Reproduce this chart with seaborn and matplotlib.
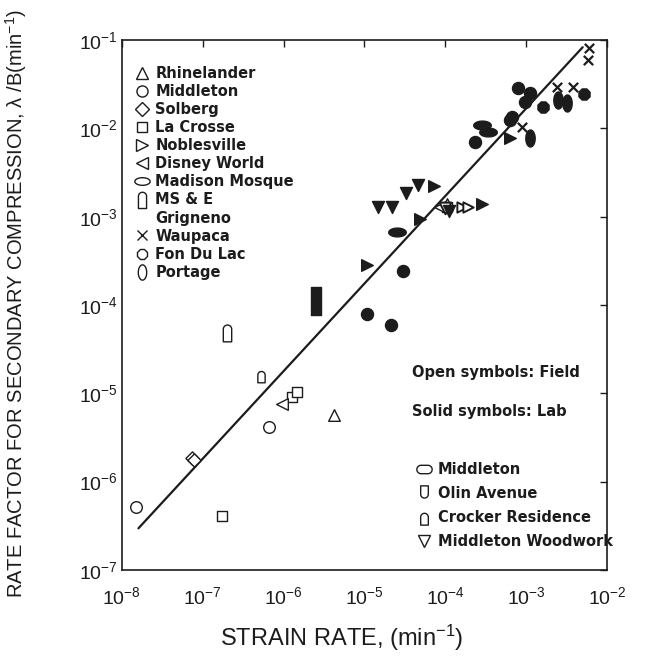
#!/usr/bin/env python3
"""
Rate factor for secondary compression vs strain rate.

Field cases (open symbols) and lab tests (solid symbols) on log-log axes,
with the fitted trend line.
"""

import matplotlib

matplotlib.use("Agg")
import matplotlib.pyplot as plt
import numpy as np
import seaborn as sns
from matplotlib.lines import Line2D
from matplotlib.markers import MarkerStyle
from matplotlib.path import Path

OUTPUT_FILENAME = "out.png"
INK = "#1c1c1c"

# --- Field data (open symbols) ---
rhinelander_x = [4.2e-6, 1.05e-4]
rhinelander_y = [5.6e-6, 1.4e-3]
middleton_x = [1.5e-8, 6.6e-7]
middleton_y = [5.1e-7, 4.1e-6]
solberg_x = [7.3e-8, 7.8e-8]
solberg_y = [1.85e-6, 1.75e-6]
lacrosse_x = [1.74e-7, 1.27e-6, 1.47e-6, 1.05e-4]
lacrosse_y = [4.1e-7, 9.1e-6, 1.03e-5, 1.3e-3]
disney_x = [9.5e-7, 8.7e-5]
disney_y = [7.6e-6, 1.3e-3]
noblesville_field_x = [1.6e-4, 1.9e-4]
noblesville_field_y = [1.3e-3, 1.3e-3]
msae_x = [2.0e-7]
msae_y = [5.0e-5]
crocker_x = [5.2e-7]
crocker_y = [1.6e-5]
woodwork_field_x = [1.0e-4]
woodwork_field_y = [1.25e-3]

# --- Lab data (solid symbols) ---
middleton_lab_x = [1.07e-5, 2.14e-5, 3.0e-5, 2.34e-4, 6.3e-4, 6.7e-4, 7.96e-4, 9.8e-4, 1.12e-3]
middleton_lab_y = [7.9e-5, 6.0e-5, 2.4e-4, 7.0e-3, 1.25e-2, 1.34e-2, 2.86e-2, 2.0e-2, 2.5e-2]
fondulac_x = [1.6e-3, 5.2e-3]
fondulac_y = [1.74e-2, 2.45e-2]
mosque_x = [2.5e-5, 2.85e-4, 3.4e-4]
mosque_y = [6.7e-4, 1.09e-2, 9.1e-3]
noblesville_lab_x = [1.07e-5, 4.9e-5, 7.2e-5, 2.85e-4, 6.3e-4]
noblesville_lab_y = [2.8e-4, 9.3e-4, 2.2e-3, 1.4e-3, 7.7e-3]
woodwork_lab_x = [1.48e-5, 2.2e-5, 3.3e-5, 4.6e-5, 1.1e-4]
woodwork_lab_y = [1.29e-3, 1.29e-3, 1.85e-3, 2.3e-3, 1.15e-3]
waupaca_x = [8.9e-4, 2.4e-3, 3.8e-3, 5.9e-3, 6.0e-3]
waupaca_y = [1.04e-2, 2.95e-2, 2.95e-2, 5.9e-2, 8.1e-2]
portage_x = [1.12e-3, 2.5e-3, 3.2e-3]
portage_y = [7.7e-3, 2.1e-2, 1.94e-2]
olin_lab_x = [2.5e-6]
olin_lab_y = [1.1e-4]

# --- Trend line ---
fit_x = [1.6e-8, 5.0e-3]
fit_y = [2.95e-7, 8.3e-2]

SITES_TOP = [
    "Rhinelander", "Middleton", "Solberg", "La Crosse", "Noblesville",
    "Disney World", "Madison Mosque", "MS & E", "Grigneno", "Waupaca",
    "Fon Du Lac", "Portage",
]
SITES_BOTTOM = ["Middleton", "Olin Avenue", "Crocker Residence", "Middleton Woodwork"]


# --- Custom symbol shapes ---
def ellipse(w, h, n=48):
    t = np.linspace(0, 2 * np.pi, n)
    return MarkerStyle(Path(np.column_stack([w * np.cos(t), h * np.sin(t)]), closed=True))


def arch(w, body, flip=False):
    # flat bottom, straight sides, round top
    t = np.linspace(0, np.pi, 24)
    top = np.column_stack([w * np.cos(t), body + w * np.sin(t)])
    verts = np.vstack([[w, -1.0], top, [-w, -1.0], [w, -1.0]])
    if flip:
        verts[:, 1] *= -1
    return MarkerStyle(Path(verts, closed=True))


def stadium(w, h):
    t1 = np.linspace(-np.pi / 2, np.pi / 2, 16)
    t2 = np.linspace(np.pi / 2, 3 * np.pi / 2, 16)
    right = np.column_stack([(w - h) + h * np.cos(t1), h * np.sin(t1)])
    left = np.column_stack([-(w - h) + h * np.cos(t2), h * np.sin(t2)])
    verts = np.vstack([right, left, right[:1]])
    return MarkerStyle(Path(verts, closed=True))


def block(w, h):
    verts = [(-w, -h), (w, -h), (w, h), (-w, h), (-w, -h)]
    return MarkerStyle(Path(verts, closed=True))


M_MOSQUE = ellipse(1.0, 0.5)
M_MSAE = arch(0.45, 0.35)
M_PORTAGE = ellipse(0.55, 1.0)
M_MIDDLETON2 = stadium(1.0, 0.55)
M_OLIN = arch(0.5, 0.1, flip=True)
M_CROCKER = arch(0.5, 0.05)
M_BLOCK = block(0.33, 1.0)


def draw(ax, xs, ys, marker, size=64, filled=False, lw=1.0):
    sns.scatterplot(
        x=xs,
        y=ys,
        marker=marker,
        s=size,
        color=INK if filled else "white",
        edgecolor=INK,
        linewidth=lw,
        legend=False,
        zorder=3,
        ax=ax,
    )


def handle(marker, ms=8, filled=False):
    if marker is None:
        return Line2D([], [], linestyle="none", marker="")
    return Line2D(
        [], [], linestyle="none", marker=marker, markersize=ms,
        markerfacecolor=INK if filled else "white", markeredgecolor=INK,
        markeredgewidth=1.0, color=INK,
    )


def visualize(output_file):
    sns.set_theme(style="white")
    plt.rcParams["font.family"] = ["Liberation Sans", "DejaVu Sans"]
    plt.rcParams["mathtext.default"] = "regular"

    fig = plt.figure(figsize=(6.52, 6.68), dpi=100)
    fig.subplots_adjust(left=0.187, right=0.931, bottom=0.147, top=0.940)
    ax = fig.add_subplot(111)

    # trend line
    sns.lineplot(x=fit_x, y=fit_y, color=INK, linewidth=1.6, ax=ax, zorder=2)

    # field (open)
    draw(ax, rhinelander_x, rhinelander_y, "^", 70)
    draw(ax, middleton_x, middleton_y, "o", 70)
    draw(ax, solberg_x, solberg_y, "D", 45)
    draw(ax, lacrosse_x, lacrosse_y, "s", 55)
    draw(ax, disney_x, disney_y, "<", 70)
    draw(ax, noblesville_field_x, noblesville_field_y, ">", 55, lw=1.4)
    draw(ax, msae_x, msae_y, M_MSAE, 180)
    draw(ax, crocker_x, crocker_y, M_CROCKER, 110)
    draw(ax, woodwork_field_x, woodwork_field_y, "v", 70, lw=1.4)

    # lab (solid)
    draw(ax, middleton_lab_x, middleton_lab_y, "o", 75, filled=True)
    draw(ax, fondulac_x, fondulac_y, "8", 75, filled=True)
    draw(ax, mosque_x, mosque_y, M_MOSQUE, 160, filled=True)
    draw(ax, noblesville_lab_x, noblesville_lab_y, ">", 70, filled=True)
    draw(ax, woodwork_lab_x, woodwork_lab_y, "v", 75, filled=True)
    draw(ax, waupaca_x, waupaca_y, "x", 45, filled=True, lw=1.6)
    draw(ax, portage_x, portage_y, M_PORTAGE, 150, filled=True)
    draw(ax, olin_lab_x, olin_lab_y, M_BLOCK, 420, filled=True)

    ax.set_xscale("log")
    ax.set_yscale("log")
    ax.set_xlim(1e-8, 1e-2)
    ax.set_ylim(1e-7, 1e-1)
    ax.minorticks_off()
    ax.tick_params(
        axis="both", which="major", direction="in", length=5, width=1,
        top=True, right=True, colors=INK, labelsize=14,
    )
    ax.tick_params(axis="x", pad=12)
    ax.tick_params(axis="y", pad=3)
    for sp in ax.spines.values():
        sp.set_color(INK)
        sp.set_linewidth(1.2)

    ax.set_xlabel("STRAIN RATE, (min$^{-1}$)", fontsize=17, color=INK)
    ax.xaxis.set_label_coords(0.454, -0.100)
    ax.set_ylabel(
        "RATE FACTOR FOR SECONDARY COMPRESSION, \u03bb /B(min$^{-1}$)",
        fontsize=14.5, color=INK,
    )
    ax.yaxis.set_label_coords(-0.192, 0.502)

    legend_font = dict(family="DejaVu Sans", weight="bold", size=10.5)

    # --- upper-left symbol key ---
    top_markers = ["^", "o", "D", "s", ">", "<", M_MOSQUE, M_MSAE, None, "x", "8", M_PORTAGE]
    top_sizes = [8, 8, 7, 7, 8, 8, 11, 13, 8, 7, 8, 11]
    handles = [handle(m, ms) for m, ms in zip(top_markers, top_sizes)]
    leg1 = ax.legend(
        handles, SITES_TOP, loc="upper left", bbox_to_anchor=(0.027, 0.951),
        frameon=False, prop=legend_font, borderpad=0, borderaxespad=0,
        handlelength=1.0, handletextpad=0.4, labelspacing=0.21,
        labelcolor=INK,
    )
    ax.add_artist(leg1)

    # --- lower-right symbol key ---
    bottom_markers = [M_MIDDLETON2, M_OLIN, M_CROCKER, "v"]
    bottom_sizes = [11, 11, 11, 8]
    handles = [handle(m, ms) for m, ms in zip(bottom_markers, bottom_sizes)]
    ax.legend(
        handles, SITES_BOTTOM, loc="upper left", bbox_to_anchor=(0.608, 0.203),
        frameon=False, prop=legend_font, borderpad=0, borderaxespad=0,
        handlelength=1.0, handletextpad=0.45, labelspacing=0.62,
        labelcolor=INK,
    )

    ax.text(0.598, 0.372, "Open symbols: Field", transform=ax.transAxes,
            va="center", ha="left", color=INK, **legend_font)
    ax.text(0.598, 0.298, "Solid symbols: Lab", transform=ax.transAxes,
            va="center", ha="left", color=INK, **legend_font)

    fig.savefig(output_file, dpi=100, facecolor="white")


def main():
    visualize(OUTPUT_FILENAME)


if __name__ == "__main__":
    main()
